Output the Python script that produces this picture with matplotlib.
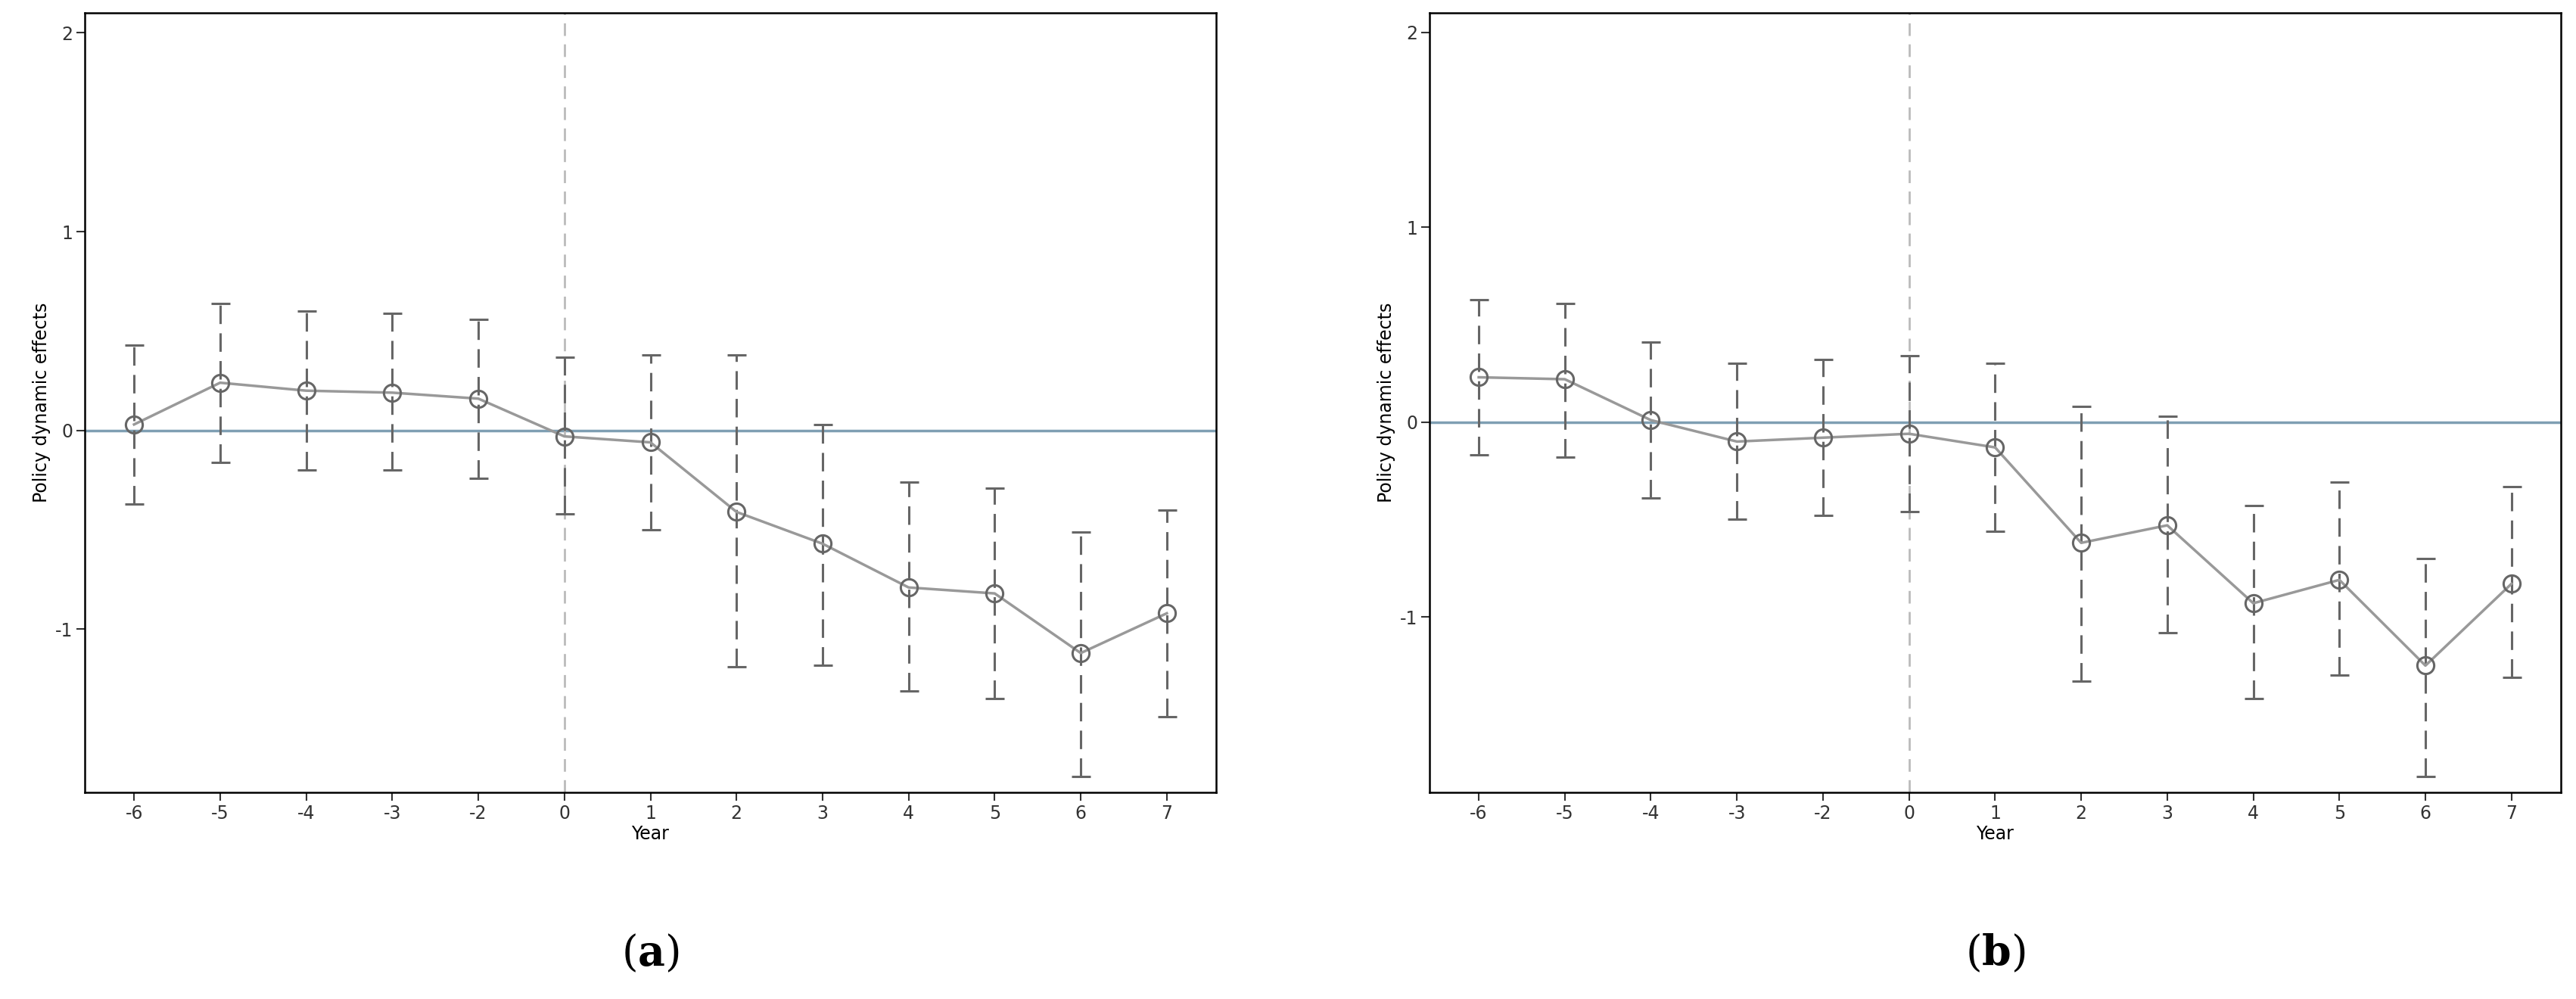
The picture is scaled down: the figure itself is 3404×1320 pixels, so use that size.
import matplotlib
matplotlib.use("Agg")
import matplotlib.pyplot as plt
import numpy as np

plt.rcParams["axes.unicode_minus"] = False
plt.rcParams["mathtext.fontset"] = "dejavuserif"

years = ["-6", "-5", "-4", "-3", "-2", "0", "1", "2", "3", "4", "5", "6", "7"]
est_a = [0.03, 0.24, 0.20, 0.19, 0.16, -0.03, -0.06, -0.41, -0.57, -0.79, -0.82, -1.12, -0.92]
lo_a = [-0.37, -0.16, -0.20, -0.20, -0.24, -0.42, -0.50, -1.19, -1.18, -1.31, -1.35, -1.74, -1.44]
hi_a = [0.43, 0.64, 0.60, 0.59, 0.56, 0.37, 0.38, 0.38, 0.03, -0.26, -0.29, -0.51, -0.40]
est_b = [0.23, 0.22, 0.01, -0.10, -0.08, -0.06, -0.13, -0.62, -0.53, -0.93, -0.81, -1.25, -0.83]
lo_b = [-0.17, -0.18, -0.39, -0.50, -0.48, -0.46, -0.56, -1.33, -1.08, -1.42, -1.30, -1.82, -1.31]
hi_b = [0.63, 0.61, 0.41, 0.30, 0.32, 0.34, 0.30, 0.08, 0.03, -0.43, -0.31, -0.70, -0.33]
panel_labels = ["a", "b"]

fig = plt.figure(figsize=(34.04, 13.2), dpi=100)
specs = [
    (0.033, est_a, lo_a, hi_a, (-1.82, 2.1)),
    (0.555, est_b, lo_b, hi_b, (-1.9, 2.1)),
]
for (left, est, lo, hi, ylim), lab in zip(specs, panel_labels):
    ax = fig.add_axes([left, 0.207, 0.439, 0.78])
    x = np.arange(len(years))
    est = np.array(est); lo = np.array(lo); hi = np.array(hi)
    ax.axhline(0, color="#7f9fb3", lw=2.5, zorder=1)
    ax.axvline(years.index("0"), color="#bbbbbb", lw=2, ls=(0, (6, 4)), zorder=1)
    eb = ax.errorbar(x, est, yerr=[est - lo, hi - est], fmt="none", ecolor="#666666",
                     elinewidth=2.2, capsize=9, capthick=2.2, zorder=2)
    eb[2][0].set_linestyle((0, (8, 4)))
    ax.plot(x, est, color="#999999", lw=2.5, marker="o", ms=16, mfc="none",
            mec="#666666", mew=2.2, zorder=3)
    ax.set_xlim(-0.57, len(years) - 0.43)
    ax.set_ylim(*ylim)
    ax.set_xticks(x)
    ax.set_xticklabels(years)
    ax.set_yticks([-1, 0, 1, 2])
    ax.tick_params(labelsize=17, length=8, width=1.5, colors="#333333")
    ax.set_xlabel("Year", fontsize=17, labelpad=2)
    ax.set_ylabel("Policy dynamic effects", fontsize=17)
    for s in ax.spines.values():
        s.set_linewidth(1.8)
    cx = left + 0.439 / 2
    fig.text(cx, 0.045, "($\\mathbf{" + lab + "}$)", fontsize=40, family="DejaVu Serif",
             ha="center", va="center")

fig.savefig("out.png", dpi=100, facecolor="white")
